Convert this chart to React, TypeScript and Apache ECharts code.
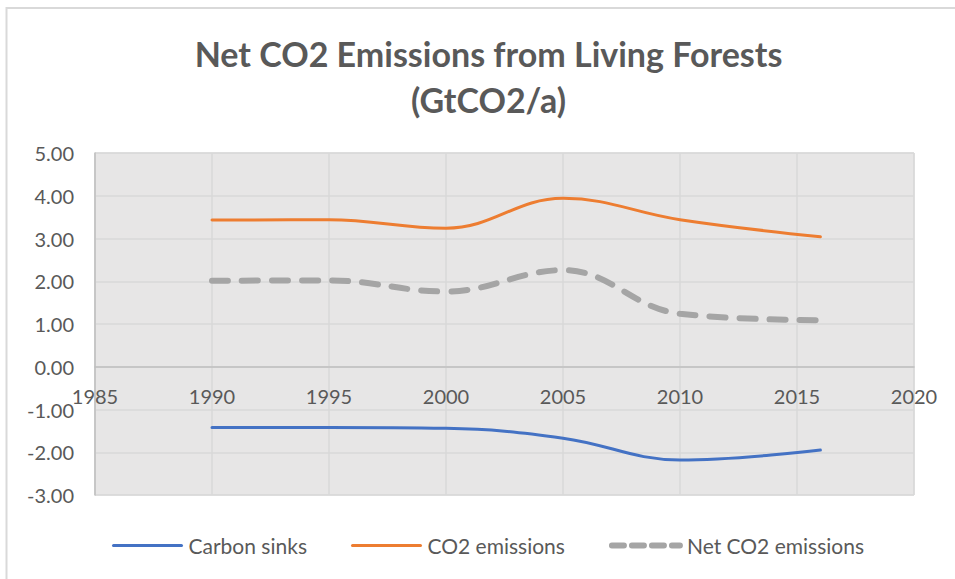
import React, { useEffect, useRef } from "react";
import * as echarts from "echarts";

const years = [1990, 1995, 2000, 2005, 2010, 2016];
const carbonSinks = [-1.42, -1.42, -1.44, -1.67, -2.18, -1.95];
const co2Emissions = [3.43, 3.44, 3.24, 3.94, 3.44, 3.04];
const netEmissions = [2.01, 2.02, 1.76, 2.26, 1.24, 1.09];
const seriesNames = ["Carbon sinks", "CO2 emissions", "Net CO2 emissions"];
const seriesColors = ["#4472C4", "#ED7D31", "#A5A5A5"];
const titleText = "Net CO2 Emissions from Living Forests\n(GtCO2/a)";

const FONT = "Lato, 'Open Sans', sans-serif";

function pairs(values: number[]) {
  return years.map((y, i) => [y, values[i]]);
}

export default function App() {
  const ref = useRef<HTMLDivElement>(null);
  useEffect(() => {
    document.body.style.margin = "0";
    const chart = echarts.init(ref.current!, null, { renderer: "svg" });
    const solid = (idx: number) => ({ color: seriesColors[idx], width: 3, cap: "round" });
    const dashed = { color: seriesColors[2], width: 6, type: [16, 14], cap: "round" };
    const lineSeries = (idx: number, values: number[]) => ({
      name: seriesNames[idx],
      type: "line",
      data: pairs(values),
      smooth: 0.4,
      showSymbol: false,
      symbol: "none",
      color: seriesColors[idx],
      lineStyle: idx === 2 ? dashed : solid(idx),
    });
    chart.setOption({
      animation: false,
      backgroundColor: "#ffffff",
      textStyle: { fontFamily: FONT },
      graphic: [
        {
          type: "rect",
          shape: { x: 6.5, y: 8, width: 1000, height: 700 },
          style: { fill: "none", stroke: "#D9D9D9", lineWidth: 2 },
          silent: true,
        },
        {
          type: "text",
          x: 488.5,
          y: 76,
          style: {
            text: titleText,
            fontFamily: FONT,
            fontSize: 34,
            fontWeight: "bold",
            fill: "#595959",
            align: "center",
            verticalAlign: "middle",
            lineHeight: 46,
          },
        },
      ],
      grid: {
        left: 95,
        top: 153,
        width: 819,
        height: 342,
        show: true,
        backgroundColor: "#E7E6E6",
        borderColor: "#D9D9D9",
        borderWidth: 1,
      },
      legend: {
        left: 107,
        top: 530,
        itemWidth: 68,
        itemHeight: 14,
        itemGap: 44,
        itemStyle: { opacity: 0 },
        data: [
          { name: seriesNames[0], lineStyle: solid(0) },
          { name: seriesNames[1], lineStyle: solid(1) },
          { name: seriesNames[2], lineStyle: { color: seriesColors[2], width: 6, type: [12, 8], cap: "round" } },
        ],
        textStyle: { fontFamily: FONT, fontSize: 21, color: "#595959", padding: [0, 0, 0, 2] },
      },
      xAxis: {
        type: "value",
        min: 1985,
        max: 2020,
        interval: 5,
        position: "bottom",
        offset: -128,
        axisLine: { show: true, onZero: false, lineStyle: { color: "#BFBFBF", width: 1.5 } },
        axisTick: { show: false },
        axisLabel: {
          fontFamily: FONT,
          fontSize: 20,
          color: "#595959",
          margin: 19,
          formatter: (v: number) => String(v),
        },
        splitLine: { show: true, lineStyle: { color: "#D9D9D9", width: 1.5 } },
      },
      yAxis: {
        type: "value",
        min: -3,
        max: 5,
        interval: 1,
        axisLine: { show: true, lineStyle: { color: "#BFBFBF", width: 1.5 } },
        axisTick: { show: false },
        axisLabel: {
          fontFamily: FONT,
          fontSize: 20,
          color: "#595959",
          margin: 21,
          formatter: (v: number) => v.toFixed(2),
        },
        splitLine: { show: true, lineStyle: { color: "#D9D9D9", width: 1.5 } },
      },
      series: [
        lineSeries(0, carbonSinks),
        lineSeries(1, co2Emissions),
        lineSeries(2, netEmissions),
      ],
    });
    return () => chart.dispose();
  }, []);
  return <div ref={ref} style={{ width: 955, height: 579 }} />;
}
